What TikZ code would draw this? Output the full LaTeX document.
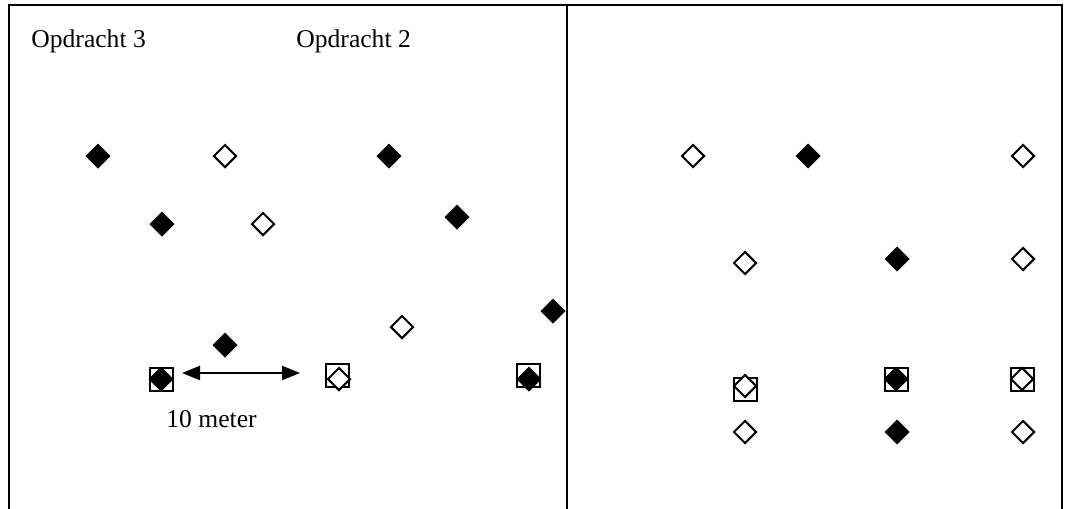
\documentclass[tikz,border=0pt]{standalone}
\usepackage{fontspec}
\setmainfont{Liberation Serif}
\usetikzlibrary{
  arrows.meta,
  shapes.geometric
}

\begin{document}
\begin{tikzpicture}[x=0.5pt, y=-0.5pt,
  fullmark/.style={diamond, draw=black, fill=black, line width=1pt,
                   inner sep=0pt, minimum size=11.5pt},
  openmark/.style={fullmark, fill=white},
  boxmark/.style={rectangle, draw=black, fill=white, line width=1pt,
                  inner sep=0pt, minimum size=11.5pt},
  fieldtext/.style={font=\fontsize{12.8}{15}\selectfont, inner sep=0pt}
]
\useasboundingbox (0,0) rectangle (1067,509);

% frame of both fields
\draw[line width=1.2pt] (9,509) -- (9,5) -- (1062,5) -- (1062,509);
\draw[line width=1pt] (567,5) -- (567,509);

\node[fieldtext, anchor=base west] (opd3) at (31,47) {Opdracht 3};
\node[fieldtext, anchor=base west] (opd2) at (296,47) {Opdracht 2};

% left field
\node[fullmark] (la1) at (98,156) {};
\node[openmark] (la2) at (225,156) {};
\node[fullmark] (la3) at (389,156) {};
\node[fullmark] (lb1) at (162,224) {};
\node[openmark] (lb2) at (263,224) {};
\node[fullmark] (lb3) at (457,217) {};
\node[fullmark] (lc1) at (225,345) {};
\node[openmark] (lc2) at (402,327) {};
\node[fullmark] (lc3) at (553,311) {};
\node[boxmark]  (boxa) at (161,379) {};
\node[fullmark] (lda) at (161,379) {};
\node[boxmark]  (boxb) at (337,375) {};
\node[openmark] (ldb) at (339,379) {};
\node[boxmark]  (boxc) at (528,375) {};
\node[fullmark] (ldc) at (529,379) {};

\coordinate (arrowl) at (182,373);
\coordinate (arrowr) at (300,373);
\draw[{Triangle[length=9pt,width=7pt]}-{Triangle[length=9pt,width=7pt]},
      line width=1.2pt] (arrowl) -- (arrowr);
\node[fieldtext, anchor=base west] (dist) at (166,427) {10 meter};

% right field
\node[openmark] (ra1) at (693,156) {};
\node[fullmark] (ra2) at (808,156) {};
\node[openmark] (ra3) at (1023,156) {};
\node[openmark] (rb1) at (745,263) {};
\node[fullmark] (rb2) at (897,259) {};
\node[openmark] (rb3) at (1023,259) {};
\node[boxmark]  (boxd) at (745,389) {};
\node[openmark] (rcd) at (745,386) {};
\node[boxmark]  (boxe) at (896,379) {};
\node[fullmark] (rce) at (896,379) {};
\node[boxmark]  (boxf) at (1022,379) {};
\node[openmark] (rcf) at (1022,379) {};
\node[openmark] (rd1) at (745,432) {};
\node[fullmark] (rd2) at (897,432) {};
\node[openmark] (rd3) at (1023,432) {};
\end{tikzpicture}
\end{document}
